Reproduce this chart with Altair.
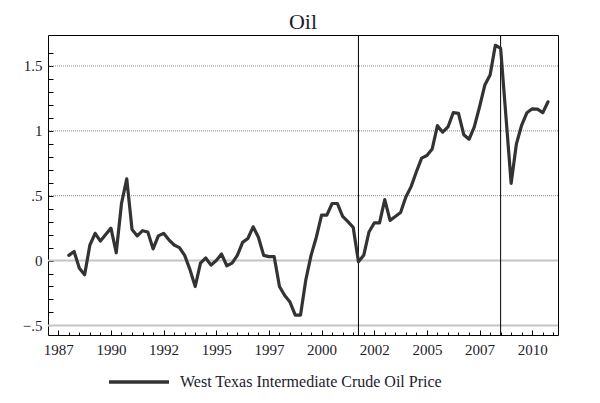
import altair as alt
import pandas as pd

# ---- data ----
chart_title = "Oil"
start_year = 1988.0          # first quarter shown
quarter_step = 0.25
oil_values = [
    0.04, 0.07, -0.06, -0.11, 0.12, 0.21, 0.15, 0.20, 0.25, 0.06,
    0.44, 0.63, 0.24, 0.19, 0.23, 0.22, 0.09, 0.19, 0.21, 0.16,
    0.12, 0.10, 0.04, -0.07, -0.20, -0.02, 0.02, -0.035, 0.00, 0.05,
    -0.04, -0.02, 0.04, 0.14, 0.17, 0.26, 0.18, 0.04, 0.03, 0.03,
    -0.20, -0.27, -0.32, -0.42, -0.42, -0.15, 0.04, 0.18, 0.35, 0.35,
    0.44, 0.44, 0.34, 0.30, 0.256, -0.01, 0.04, 0.22, 0.29, 0.29,
    0.47, 0.31, 0.34, 0.37, 0.49, 0.57, 0.685, 0.79, 0.81, 0.86,
    1.04, 0.99, 1.03, 1.14, 1.135, 0.97, 0.935, 1.03, 1.186, 1.353,
    1.43, 1.66, 1.636, 1.115, 0.595, 0.90, 1.045, 1.14, 1.17, 1.168,
    1.14, 1.224,
]
series_name = "West Texas Intermediate Crude Oil Price"
event_dates = [2001.75, 2008.5]
dotted_grid = [0.5, 1.0, 1.5]
solid_grid = [0.0, -0.5]
y_tick_values = [-0.5, 0, 0.5, 1, 1.5]
y_tick_labels = ["\u2212.5", "0", ".5", "1", "1.5"]
x_tick_values = [1987.5, 1990, 1992.5, 1995, 1997.5, 2000, 2002.5, 2005, 2007.5, 2010]
x_tick_labels = ["1987", "1990", "1992", "1995", "1997", "2000", "2002", "2005", "2007", "2010"]
x_minor_ticks = [1987.5 + 0.5 * k for k in range(48)]
y_minor_ticks = [round(-0.5 + 0.1 * k, 1) for k in range(22)]

dates = [start_year + quarter_step * i for i in range(len(oil_values))]
df = pd.DataFrame({"date": dates, "value": oil_values, "series": series_name})

FONT = "Liberation Serif"
TXT = "#1c1c2a"
xs = alt.Scale(domain=[1987.011, 2011.224], nice=False, zero=False)
ys = alt.Scale(domain=[-0.574, 1.739], nice=False, zero=False)


def label_expr(values, labels):
    parts = [f"abs(datum.value - ({v})) < 1e-6 ? '{l}'" for v, l in zip(values, labels)]
    return " : ".join(parts) + " : ''"


major_test = "indexof([" + ",".join(str(v) for v in x_tick_values) + "], datum.value) >= 0"

line = alt.Chart(df).mark_line(strokeWidth=3.2, strokeJoin="round", strokeCap="round").encode(
    x=alt.X("date:Q", scale=xs, axis=alt.Axis(
        orient="bottom", values=x_tick_values, labelExpr=label_expr(x_tick_values, x_tick_labels),
        tickSize=0, domain=False, grid=False, title=None, labelFont=FONT, labelFontSize=15,
        labelColor=TXT, labelPadding=7, labelFlush=False, labelOverlap=False)),
    y=alt.Y("value:Q", scale=ys, axis=alt.Axis(
        orient="left", values=y_tick_values, labelExpr=label_expr(y_tick_values, y_tick_labels),
        tickSize=0, domain=False, grid=False, title=None, labelFont=FONT, labelFontSize=15,
        labelColor=TXT, labelPadding=6, labelFlush=False, labelOverlap=False)),
    color=alt.Color("series:N", scale=alt.Scale(range=["#333333"]), legend=alt.Legend(
        orient="none", legendX=59, legendY=315, title=None, symbolType="stroke",
        symbolSize=3600, symbolStrokeWidth=3.5, labelFont=FONT, labelFontSize=16,
        labelColor=TXT, labelOffset=9, labelLimit=500, padding=0)),
)

vrules = alt.Chart(pd.DataFrame({"date": event_dates})).mark_rule(color="black", strokeWidth=1).encode(
    x=alt.X("date:Q", scale=xs, axis=alt.Axis(
        orient="top", offset=-300, values=x_minor_ticks, labels=False, domain=False, grid=False,
        title=None, tickColor="black", tickWidth=1,
        tickSize={"condition": {"test": major_test, "value": 5}, "value": 3})),
)

grid_dot = alt.Chart(pd.DataFrame({"v": dotted_grid})).mark_rule(
    color="#8c8c8c", strokeWidth=1, strokeDash=[1, 1]).encode(
    y=alt.Y("v:Q", scale=ys, axis=alt.Axis(
        orient="right", offset=-510, values=y_minor_ticks, labels=False, domain=False, grid=False,
        title=None, tickColor="black", tickWidth=1, tickSize=5)),
)

grid_solid = alt.Chart(pd.DataFrame({"v": solid_grid})).mark_rule(
    color="#c4c4c4", strokeWidth=2).encode(
    y=alt.Y("v:Q", scale=ys, axis=None),
)

title_mark = alt.Chart(pd.DataFrame({"t": [chart_title]})).mark_text(
    font=FONT, fontSize=22, align="center", baseline="alphabetic", color=TXT).encode(
    text="t:N", x=alt.value(255), y=alt.value(-6),
)

chart = alt.layer(grid_solid, grid_dot, vrules, line, title_mark).resolve_axis(
    x="independent", y="independent"
).properties(
    width=510, height=300,
    autosize="none",
    padding={"left": 40, "top": 27, "right": 34, "bottom": 58},
).configure_view(stroke="black", strokeWidth=1)

chart.save("out.html", embed_options={"renderer": "svg", "actions": False})
